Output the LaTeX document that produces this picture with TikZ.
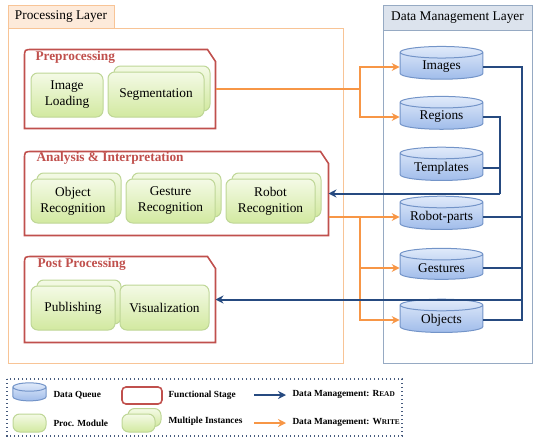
\documentclass[tikz,border=0pt]{standalone}
\usepackage{fontspec}
\setmainfont{Liberation Serif}
\usetikzlibrary{shapes.geometric,arrows.meta,calc,fit}

\definecolor{layerOrange}{RGB}{248,196,150}
\definecolor{tabOrange}{RGB}{253,234,218}
\definecolor{layerBlue}{RGB}{150,170,195}
\definecolor{tabBlue}{RGB}{220,227,237}
\definecolor{stageRed}{RGB}{192,80,77}
\definecolor{writeOrange}{RGB}{247,150,70}
\definecolor{readBlue}{RGB}{38,74,128}
\definecolor{modTop}{RGB}{244,250,230}
\definecolor{modBot}{RGB}{210,233,160}
\definecolor{modLine}{RGB}{190,214,150}
\definecolor{cylTop}{RGB}{224,234,250}
\definecolor{cylBot}{RGB}{160,188,234}
\definecolor{cylLine}{RGB}{115,148,200}
\definecolor{legendLine}{RGB}{70,90,125}

\tikzset{every picture/.style={line width=0.75pt}}
\tikzset{
	module/.style={draw=modLine, rounded corners=5pt, top color=modTop, bottom color=modBot,
		align=center, inner sep=0pt, font=\fontsize{10}{12}\selectfont},
	queue/.style={cylinder, shape border rotate=90, aspect=0.14, draw=cylLine,
		top color=cylTop, bottom color=cylBot, text width=58pt, align=center,
		minimum height=23.25pt, inner sep=2pt, font=\fontsize{10}{12}\selectfont},
	stagebox/.style={inner sep=0pt},
	stageline/.style={draw=stageRed, line width=1.2pt},
	stagelabel/.style={text=stageRed, anchor=west, inner sep=0pt, font=\fontsize{10}{12}\selectfont\bfseries},
	wr/.style={draw=writeOrange, line width=1.5pt},
	wrarrow/.style={wr, -{Stealth[length=6pt,width=6pt,inset=2pt]}},
	rd/.style={draw=readBlue, line width=1.5pt},
	rdarrow/.style={rd, -{Stealth[length=6pt,width=6pt,inset=2pt]}},
	legendtext/.style={anchor=west, inner sep=0pt, font=\fontsize{7}{8}\selectfont\bfseries}
}

\begin{document}
\begin{tikzpicture}[x=0.75pt,y=0.75pt,yscale=-1,xscale=1]
	\useasboundingbox (0,0) rectangle (535,439);

	%Shape: Processing layer
	\draw[draw=layerOrange, fill=tabOrange] (8,5) rectangle (114,28);
	\draw[draw=layerOrange] (8,28) rectangle (343,363);
	\node (procTitle) at (61,17) {\fontsize{10}{12}\selectfont Processing Layer};
	%Shape: Data management layer
	\draw[draw=layerBlue, fill=tabBlue] (383,5) rectangle (532,30);
	\draw[draw=layerBlue] (383,30) rectangle (532,363);
	\node (dataTitle) at (457.5,17.5) {\fontsize{10}{12}\selectfont Data Management Layer};

	%Stages
	\node[stagebox, fit={(25,50) (215,128)}] (pre) {};
	\node[stagebox, fit={(25,152) (328,235)}] (ana) {};
	\node[stagebox, fit={(25,257) (215,342)}] (post) {};
	\foreach \st in {pre,ana,post}{
		\draw[stageline] (\st.south west) -- ($(\st.north west)+(0,8)$) .. controls (\st.north west) .. ($(\st.north west)+(8,0)$)
			-- ($(\st.north east)+(-8,0)$) -- ($(\st.north east)+(0,12)$) -- (\st.south east) -- cycle;
	}
	\node[stagelabel] (preLabel) at (35,57) {Preprocessing};
	\node[stagelabel] (anaLabel) at (36,158) {Analysis \& Interpretation};
	\node[stagelabel] (postLabel) at (37,264) {Post Processing};

	%Modules: preprocessing
	\node[module, minimum width=54pt, minimum height=33pt] (load) at (67,95) {Image\\Loading};
	\node[module, minimum width=72pt, minimum height=33.75pt] (segBack) at (162,88.5) {};
	\node[module, minimum width=72pt, minimum height=33.75pt] (seg) at (156,94.5) {Segmentation};

	%Modules: analysis
	\node[module, minimum width=63pt, minimum height=33pt] (objBack) at (79,195) {};
	\node[module, minimum width=63pt, minimum height=33pt] (objRec) at (73,201) {Object\\Recognition};
	\node[module, minimum width=66.75pt, minimum height=33pt] (gesBack) at (176.5,195) {};
	\node[module, minimum width=66.75pt, minimum height=33pt] (gesRec) at (170.5,201) {Gesture\\Recognition};
	\node[module, minimum width=66.75pt, minimum height=33pt] (robBack) at (276.5,195) {};
	\node[module, minimum width=66.75pt, minimum height=33pt] (robRec) at (270.5,201) {Robot\\Recognition};

	%Modules: post processing
	\node[module, minimum width=63pt, minimum height=33pt] (pubBack) at (79,302) {};
	\node[module, minimum width=63pt, minimum height=33pt] (pub) at (73,308) {Publishing};
	\node[module, minimum width=66.75pt, minimum height=33.75pt] (vis) at (164.5,307.5) {Visualization};

	%Data queues
	\node[queue] (img) at (441.5,67) {Images};
	\node[queue] (reg) at (441.5,117) {Regions};
	\node[queue] (tpl) at (441.5,168) {Templates};
	\node[queue] (rob) at (441.5,217) {Robot-parts};
	\node[queue] (ges) at (441.5,268) {Gestures};
	\node[queue] (obj) at (441.5,320) {Objects};

	%Write connectors
	\coordinate (splitPre) at (360,89);
	\draw[wr] (pre.east) -- (splitPre);
	\draw[wrarrow] (splitPre) |- (img.west);
	\draw[wrarrow] (splitPre) |- (reg.west);
	\coordinate (splitAna) at (360,217);
	\draw[wrarrow] (ana.east |- rob.west) -- (rob.west);
	\draw[wrarrow] (splitAna) |- (ges.west);
	\draw[wrarrow] (splitAna) |- (obj.west);

	%Read connectors
	\coordinate (busAna) at (500,193.5);
	\draw[rd] (reg.east) -| (busAna);
	\draw[rd] (tpl.east) -- (tpl.east -| busAna);
	\draw[rdarrow] (busAna) -- (ana.east);
	\coordinate (busPost) at (522,299.5);
	\draw[rd] (img.east) -| (busPost);
	\draw[rd] (obj.east) -| (busPost);
	\draw[rd] (rob.east) -- (rob.east -| busPost);
	\draw[rd] (ges.east) -- (ges.east -| busPost);
	\draw[rdarrow] (busPost) -- (post.east);

	%Legend
	\draw[draw=legendLine, line width=1pt, dotted] (7,379) rectangle (402,436);
	\node[queue, aspect=0.25, text width=23pt, minimum height=13.5pt, inner sep=1pt] (keyQueue) at (29.5,395) {};
	\node[legendtext] (keyQueueText) at (53,395) {Data Queue};
	\node[module, minimum width=24.75pt, minimum height=13.5pt] (keyModule) at (29.5,423) {};
	\node[legendtext] (keyModuleText) at (53,423) {Proc. Module};
	\node[draw=stageRed, line width=1.2pt, rounded corners=3pt, minimum width=30pt, minimum height=12.75pt] (keyStage) at (142,395.5) {};
	\node[legendtext] (keyStageText) at (168,395) {Functional Stage};
	\node[module, minimum width=24.75pt, minimum height=13.5pt] (keyMultiBack) at (144.5,417.5) {};
	\node[module, minimum width=24.75pt, minimum height=13.5pt] (keyMulti) at (138.5,423) {};
	\node[legendtext] (keyMultiText) at (168,421) {Multiple Instances};
	\coordinate (keyReadFrom) at (254,395);
	\coordinate (keyReadTo) at (286,395);
	\draw[rdarrow] (keyReadFrom) -- (keyReadTo);
	\node[legendtext] (keyReadText) at (292,394) {Data Management: R{\fontsize{5.5}{8}\selectfont EAD}};
	\coordinate (keyWriteFrom) at (254,423);
	\coordinate (keyWriteTo) at (286,423);
	\draw[wrarrow] (keyWriteFrom) -- (keyWriteTo);
	\node[legendtext] (keyWriteText) at (292,422) {Data Management: W{\fontsize{5.5}{8}\selectfont RITE}};

\end{tikzpicture}
\end{document}
